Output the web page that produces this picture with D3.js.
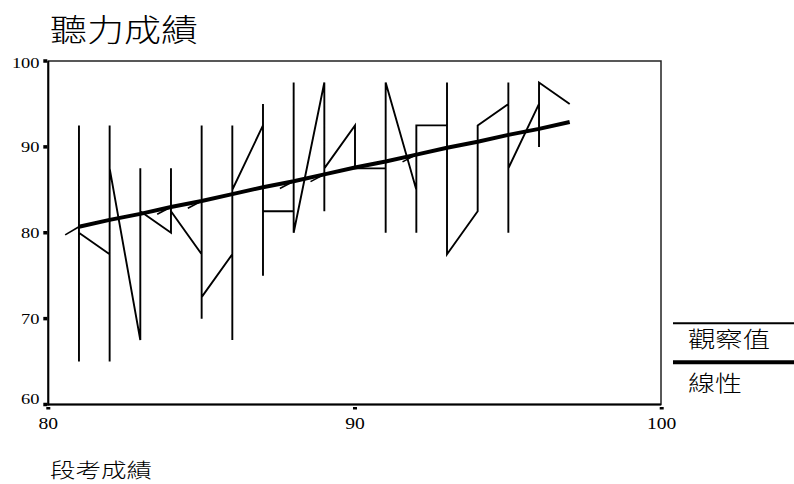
<!DOCTYPE html>
<html><head><meta charset="utf-8">
<script src="https://cdn.jsdelivr.net/npm/d3@7"></script>
<style>body{margin:0;background:#fff}svg{display:block}</style>
</head><body>
<svg id="c" width="794" height="484"></svg>
<script>
const chartTitle = "聽力成績";
const xTitle = "段考成績";
const legendLabels = ["觀察值", "線性"];
const xTicks = [80, 90, 100];
const yTicks = [60, 70, 80, 90, 100];

// observed values (段考成績, 聽力成績) in drawing order
const obsX = [81,81,81, 82,82,82,82, 83,83,83, 84,84,84, 85,85,85,85, 86,86,86,86,
  87,87,87,87, 88,88,88, 89,89,89, 90,90, 91,91,91, 92,92,92, 93,93,93, 94,94,
  95,95,95,95, 96,96,96, 97];
const obsY = [92.5,65,80, 77.5,92.5,65,87.5, 67.5,87.5,82.5, 80,87.5,82.5, 77.5,92.5,70,72.5,
  77.5,92.5,67.5,85, 92.5,95,75,82.5, 82.5,97.5,80, 97.5,82.5,87.5, 92.5,87.5,
  87.5,80,97.5, 85,80,92.5, 92.5,97.5,77.5, 82.5,92.5, 95,97.5,80,87.5, 95,90,97.5, 95];

// linear fit values
const fitX = [81,82,83,84,85,86,87,88,89,90,91,92,93,94,95,96,97];
const fitY = [80.7,81.5,82.2,83.0,83.7,84.5,85.3,86.0,86.8,87.6,88.3,89.1,89.9,90.6,91.4,92.1,92.9];
const hookX = [81, 84, 85, 88, 89, 92];

const svg = d3.select("#c");
const x = d3.scaleLinear().domain([80, 100]).range([48.3, 661.7]);
const y = d3.scaleLinear().domain([60, 100]).range([404.5, 61]);
const cjk = "'Noto Sans CJK TC','Noto Sans CJK SC',sans-serif";
const serif = "'Liberation Serif','Times New Roman','DejaVu Serif',serif";

// title
svg.append("text").attr("x", 50).attr("y", 41)
  .attr("font-family", cjk).attr("font-size", 31).attr("font-weight", 300)
  .attr("textLength", 148).attr("lengthAdjust", "spacingAndGlyphs")
  .text(chartTitle);

// frame
const x0 = x(80), x1 = 661, yTop = y(100), yBot = y(60);
svg.append("rect").attr("x", x0).attr("y", yTop).attr("width", x1 - x0).attr("height", yBot - yTop)
  .attr("fill", "none").attr("stroke", "#222").attr("stroke-width", 1.5);
svg.append("line").attr("x1", x0).attr("x2", x0).attr("y1", yTop).attr("y2", yBot + 1)
  .attr("stroke", "#000").attr("stroke-width", 2);
svg.append("line").attr("x1", x0 - 1).attr("x2", x1).attr("y1", yBot).attr("y2", yBot)
  .attr("stroke", "#000").attr("stroke-width", 2);

// y ticks
svg.selectAll(".yt").data(yTicks).enter().append("rect")
  .attr("x", x0 - 5).attr("width", 4).attr("y", d => y(d) - 1.75).attr("height", 3.5).attr("fill", "#000");
svg.selectAll(".yl").data(yTicks).enter().append("text")
  .attr("x", 39.5).attr("y", d => Math.max(68, Math.min(404, y(d) + 5)))
  .attr("text-anchor", "end").attr("font-family", serif).attr("font-size", 15.5)
  .attr("textLength", d => String(d).length * 9.2).attr("lengthAdjust", "spacingAndGlyphs")
  .text(d => d);

// x ticks
svg.selectAll(".xt").data(xTicks).enter().append("rect")
  .attr("x", d => x(d) - 2).attr("width", 4).attr("y", yBot + 2.5).attr("height", 2.5).attr("fill", "#000");
svg.selectAll(".xl").data(xTicks).enter().append("text")
  .attr("x", d => x(d)).attr("y", 429)
  .attr("text-anchor", "middle").attr("font-family", serif).attr("font-size", 16)
  .attr("textLength", d => String(d).length * 9.8).attr("lengthAdjust", "spacingAndGlyphs")
  .text(d => d);

// x title
svg.append("text").attr("x", 50).attr("y", 477.5)
  .attr("font-family", cjk).attr("font-size", 20.5).attr("font-weight", 300)
  .attr("textLength", 102).attr("lengthAdjust", "spacingAndGlyphs")
  .text(xTitle);

// observed line
const obs = obsX.map((v, i) => [v, obsY[i]]);
svg.append("path").datum(obs)
  .attr("d", d3.line().x(d => x(d[0])).y(d => y(d[1])))
  .attr("fill", "none").attr("stroke", "#000").attr("stroke-width", 1.9)
  .attr("stroke-miterlimit", 4);

// fit line
const fit = fitX.map((v, i) => [v, fitY[i]]);
const fitAt = v => fitY[fitX.indexOf(v)];
svg.selectAll(".hook").data(hookX).enter().append("line")
  .attr("x1", d => x(d - 0.45)).attr("y1", d => y(fitAt(d) - (d === fitX[0] ? 0.95 : 0.85)))
  .attr("x2", d => x(d)).attr("y2", d => y(fitAt(d)))
  .attr("stroke", "#000").attr("stroke-width", 1.6);
svg.append("path").datum(fit)
  .attr("d", d3.line().x(d => x(d[0])).y(d => y(d[1])))
  .attr("fill", "none").attr("stroke", "#000").attr("stroke-width", 4);

// legend
const legY = [323.3, 362.3];
const legW = [2, 4];
const legTextY = [347, 391];
const legTextW = [82, 54];
legendLabels.forEach((lab, i) => {
  svg.append("line").attr("x1", 673).attr("x2", 794).attr("y1", legY[i]).attr("y2", legY[i])
    .attr("stroke", "#000").attr("stroke-width", legW[i]);
  svg.append("text").attr("x", 688).attr("y", legTextY[i])
    .attr("font-family", cjk).attr("font-size", 22).attr("font-weight", 300)
    .attr("textLength", legTextW[i]).attr("lengthAdjust", "spacingAndGlyphs")
    .text(lab);
});
</script>
</body></html>
